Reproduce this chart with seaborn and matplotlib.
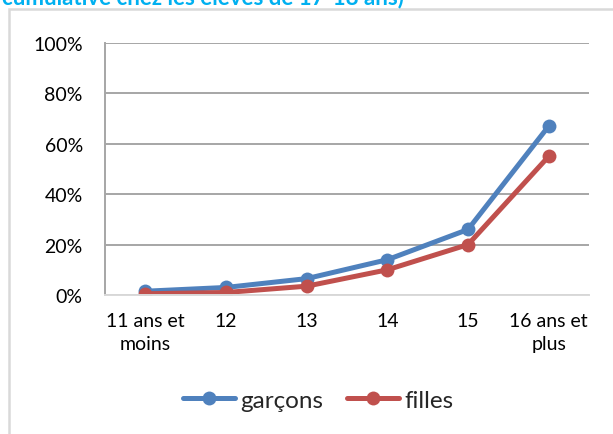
import pandas as pd
import matplotlib.pyplot as plt
import matplotlib.patches as mpatches
import seaborn as sns

# ages (cumulative share of pupils aged 17-18)
ages = ["11 ans et\nmoins", "12", "13", "14", "15", "16 ans et\nplus"]
garcons = [0.015, 0.03, 0.065, 0.14, 0.26, 0.67]
filles = [0.005, 0.01, 0.035, 0.10, 0.20, 0.55]
series_names = ["garçons", "filles"]
colors = ["#4F81BD", "#C0504D"]
title_text = "cumulative chez les élèves de 17-18 ans)"

df = pd.DataFrame({
    "age": ages * 2,
    "part": garcons + filles,
    "sexe": [series_names[0]] * len(ages) + [series_names[1]] * len(ages),
})

sns.set_style("white")
plt.rcParams["font.family"] = ["Lato", "DejaVu Sans"]

fig = plt.figure(figsize=(6.13, 4.35), dpi=100)
ax = fig.add_axes([105 / 613, 1 - 296 / 435, (589 - 105) / 613, (296 - 44) / 435])

sns.lineplot(data=df, x="age", y="part", hue="sexe", palette=colors,
             marker="o", markersize=10, markeredgewidth=0, linewidth=3.6,
             sort=False, ax=ax)

ax.set_xlim(-0.5, len(ages) - 0.5)
ax.set_ylim(0, 1)
ax.set_yticks([0, 0.2, 0.4, 0.6, 0.8, 1.0])
ax.set_yticklabels(["0%", "20%", "40%", "60%", "80%", "100%"])
ax.yaxis.grid(True, color="#A6A6A6", linewidth=1.4)
ax.set_axisbelow(True)
ax.tick_params(axis="both", length=0, labelsize=14, colors="#000000")
ax.tick_params(axis="y", pad=16)
ax.tick_params(axis="x", pad=12)
for lbl in ax.get_xticklabels():
    lbl.set_linespacing(1.45)
ax.set_xlabel("")
ax.set_ylabel("")
for side in ["top", "right"]:
    ax.spines[side].set_visible(False)
ax.spines["left"].set_color("#A6A6A6")
ax.spines["left"].set_linewidth(1.4)
ax.spines["bottom"].set_color("#D9D9D9")
ax.spines["bottom"].set_linewidth(1.4)

leg = ax.legend(loc="center", bbox_to_anchor=(318 / 613, 1 - 401 / 435),
                bbox_transform=fig.transFigure, ncol=2, frameon=False,
                fontsize=17.5, handlelength=2.15, handletextpad=0.2,
                columnspacing=1.0)

# outer chart frame
fig.patches.append(mpatches.Rectangle((8.5 / 613, -0.01), 1, 1 - 9.5 / 435 + 0.01,
                                      transform=fig.transFigure, fill=False,
                                      edgecolor="#D9D9D9", linewidth=1.8))

# cut-off heading above the chart
fig.text(2 / 613, 1 - 4.5 / 435, title_text, color="#00B0F0", fontsize=16,
         fontweight="bold", va="baseline", ha="left")

fig.savefig("out.png", dpi=100, facecolor="white")
